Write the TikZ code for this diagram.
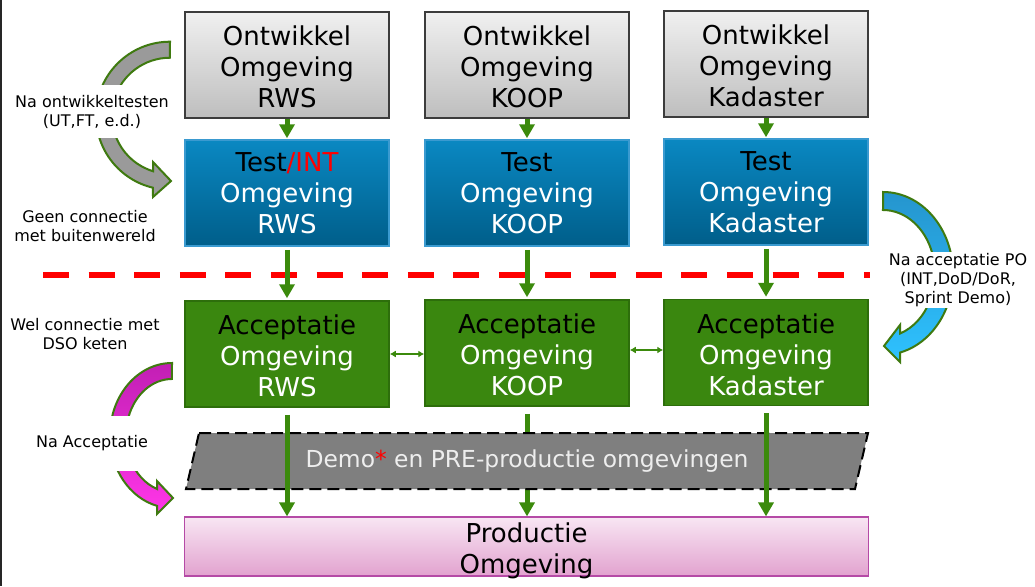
\documentclass[tikz,border=0pt]{standalone}
\usepackage{fontspec}
\setmainfont{DejaVu Sans}
\usetikzlibrary{arrows.meta,calc}
\definecolor{grn}{HTML}{3B8A0C}
\definecolor{arrowline}{HTML}{3F7A10}
\definecolor{devtop}{HTML}{F0F0F0}
\definecolor{devbot}{HTML}{BEBEBE}
\definecolor{devline}{HTML}{3C3C3C}
\definecolor{tsttop}{HTML}{0A88C2}
\definecolor{tstbot}{HTML}{005E8A}
\definecolor{tstline}{HTML}{3A9AD0}
\definecolor{accfill}{HTML}{3A870F}
\definecolor{accline}{HTML}{2D6E0B}
\definecolor{prodtop}{HTML}{F8E6F3}
\definecolor{prodbot}{HTML}{E2A2CF}
\definecolor{prodline}{HTML}{B54AA6}
\definecolor{demofill}{HTML}{7F7F7F}
\definecolor{demotext}{HTML}{EEEEEE}
\definecolor{intred}{HTML}{FF0000}
\definecolor{bluetop}{HTML}{2595CE}
\definecolor{bluebot}{HTML}{2EC2FF}
\definecolor{magtop}{HTML}{C21FB4}
\definecolor{magbot}{HTML}{FF36E8}
\definecolor{grayarrow}{HTML}{9A9A9A}
\newcommand{\lowerby}[2]{\raisebox{-#1}[\height][\depth]{#2}}
\begin{document}
\begin{tikzpicture}[x=1pt,y=1pt,
  envbox/.style={minimum width=204pt, minimum height=106pt, inner sep=0pt,
    align=center, font=\fontsize{26}{31}\selectfont, line width=1.5pt},
  devbox/.style={envbox, top color=devtop, bottom color=devbot, draw=devline},
  testbox/.style={envbox, top color=tsttop, bottom color=tstbot, draw=tstline, text=white},
  accbox/.style={envbox, fill=accfill, draw=accline, text=white},
  prodbox/.style={minimum width=684pt, minimum height=59pt, inner sep=0pt,
    align=center, font=\fontsize{26}{31}\selectfont, line width=1.2pt,
    top color=prodtop, bottom color=prodbot, draw=prodline},
  bigarrow/.style={draw=grn, line width=5pt, -{Triangle[width=15pt,length=14pt]}},
  twoway/.style={draw=grn, line width=1.5pt, {Latex[length=6pt,width=7pt]}-{Latex[length=6pt,width=7pt]}},
  sidelabel/.style={align=center, font=\fontsize{16}{19}\selectfont, inner sep=1pt},
  curvedarrow/.style={draw=arrowline, line width=2pt, line join=miter}
]
\useasboundingbox (0,0) rectangle (1035,-586);
\fill[white] (0,0) rectangle (1035,-586);
\draw[line width=2pt, black!85] (1,0) -- (1,-586);
\draw[line width=1pt, black] (184,-12) -- (184,-83);

% curved arrows
\draw[curvedarrow, fill=grayarrow]
  (170,-41.7) arc[start angle=90, end angle=256.7, radius=74]
  -- (153,-197) -- (171,-181) -- (153,-162) -- (153,-171.2)
  arc[start angle=253, end angle=90, radius=58] -- cycle;
\draw[curvedarrow, top color=magtop, bottom color=magbot]
  (172,-363) arc[start angle=90, end angle=256, x radius=62, y radius=72.5]
  -- (157,-514) -- (173,-498) -- (157,-481) -- (157,-488.9)
  arc[start angle=251, end angle=90, x radius=46, y radius=56.5] -- cycle;
\draw[curvedarrow, top color=bluetop, bottom color=bluebot]
  (883,-192) arc[start angle=90, end angle=-75.94, x radius=70, y radius=81.5]
  -- (900,-362) -- (884,-346) -- (900,-325) -- (900,-333.5)
  arc[start angle=-70.9, end angle=90, x radius=52, y radius=63.5] -- cycle;

% side labels
\node[sidelabel, fill=white, minimum height=53pt] (lblDev) at (92,-111.5) {Na ontwikkeltesten\\(UT,FT, e.d.)};
\node[sidelabel] (lblGeen) at (85,-226.5) {Geen connectie\\met buitenwereld};
\node[sidelabel] (lblWel) at (85,-334.5) {Wel connectie met\\DSO keten};
\node[sidelabel, fill=white, minimum height=55pt] (lblAcc) at (92,-443) {Na Acceptatie};
\node[sidelabel, fill=white, minimum height=55pt] (lblPO) at (958,-280) {Na acceptatie PO\\(INT,DoD/DoR,\\Sprint Demo)};

% red dashed separator
\draw[intred, line width=6pt, dash pattern=on 26pt off 19.6pt] (43,-274.5) -- (870,-274.5);

% boxes
\node[devbox] (devR) at (287,-65) {\lowerby{2pt}{Ontwikkel}\\\lowerby{2pt}{Omgeving}\\\lowerby{2pt}{RWS}};
\node[devbox] (devK) at (527,-65) {\lowerby{2pt}{Ontwikkel}\\\lowerby{2pt}{Omgeving}\\\lowerby{2pt}{KOOP}};
\node[devbox] (devD) at (766,-64) {\lowerby{2pt}{Ontwikkel}\\\lowerby{2pt}{Omgeving}\\\lowerby{2pt}{Kadaster}};
\node[testbox] (tstR) at (287,-193) {\textcolor{black}{Test}\textcolor{intred}{/INT}\\Omgeving\\RWS};
\node[testbox] (tstK) at (527,-193) {\textcolor{black}{Test}\\Omgeving\\KOOP};
\node[testbox] (tstD) at (766,-192) {\textcolor{black}{Test}\\Omgeving\\Kadaster};
\node[accbox] (accR) at (287,-354) {\lowerby{2pt}{\textcolor{black}{Acceptatie}}\\\lowerby{2pt}{Omgeving}\\\lowerby{2pt}{RWS}};
\node[accbox] (accK) at (527,-353) {\lowerby{2pt}{\textcolor{black}{Acceptatie}}\\\lowerby{2pt}{Omgeving}\\\lowerby{2pt}{KOOP}};
\node[accbox] (accD) at (766,-352.5) {\lowerby{2pt}{\textcolor{black}{Acceptatie}}\\\lowerby{2pt}{Omgeving}\\\lowerby{2pt}{Kadaster}};
\node[prodbox] (prod) at (526.5,-546.5) {\lowerby{4pt}{Productie}\\\lowerby{4pt}{Omgeving}};

% arrows dev -> test
\draw[bigarrow, shorten >=1pt] (devR.south) -- (tstR.north);
\draw[bigarrow, shorten >=1pt] (devK.south) -- (tstK.north);
\draw[bigarrow, shorten >=1pt] (devD.south) -- (tstD.north);
% arrows test -> acceptatie
\draw[bigarrow, shorten <=3pt, shorten >=2pt] (tstR.south) -- (accR.north);
\draw[bigarrow, shorten <=3pt, shorten >=2pt] (tstK.south) -- (accK.north);
\draw[bigarrow, shorten <=3pt, shorten >=2pt] (tstD.south) -- (accD.north);
% acceptatie <-> acceptatie
\draw[twoway] (accR.east) -- (accR.east -| accK.west);
\draw[twoway] ([yshift=3pt]accK.east) -- ([yshift=3pt]accK.east -| accD.west);

% KOOP arrow behind demo band
\coordinate (prodK) at (accK.south |- prod.north);
\coordinate (prodR) at (accR.south |- prod.north);
\coordinate (prodD) at (accD.south |- prod.north);
\draw[bigarrow, shorten <=7pt] (accK.south) -- (prodK);

% demo / pre-productie band
\draw[fill=demofill, draw=black, line width=2pt, dash pattern=on 12pt off 6pt]
  (199,-433) -- (868,-433) -- (855,-489) -- (186,-489) -- cycle;
\node[text=demotext, font=\fontsize{23.4}{27}\selectfont, inner sep=0pt] (demo) at (527,-461)
  {Demo\textcolor{intred}{*} en PRE-productie omgevingen};

\draw[bigarrow, shorten <=7pt] (accR.south) -- (prodR);
\draw[bigarrow, shorten <=7pt] (accD.south) -- (prodD);
\end{tikzpicture}
\end{document}
